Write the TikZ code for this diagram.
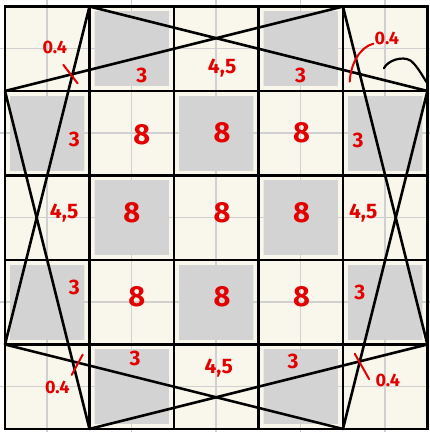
\documentclass[tikz,border=0pt]{standalone}
\usepackage{fontspec}
\setsansfont{Fira Sans}
\definecolor{paper}{RGB}{249,247,236}
\definecolor{hatchgray}{RGB}{211,211,211}
\definecolor{finegray}{RGB}{208,208,208}
\definecolor{inkred}{RGB}{226,0,0}

\begin{document}
\begin{tikzpicture}[x=84.5pt,y=84.5pt,
  fine/.style={finegray, line width=1.5pt},
  hatch/.style={hatchgray, line width=5.5pt, line cap=round},
  gridline/.style={black, line width=2.8pt, line cap=rect},
  star/.style={black, line width=2.6pt, line join=round},
  tick/.style={inkred, line width=2pt, line cap=round},
  num/.style={inkred, font=\sffamily\bfseries\fontsize{21}{21}\selectfont},
  bignum/.style={inkred, font=\sffamily\bfseries\fontsize{29}{29}\selectfont},
  smallnum/.style={inkred, font=\sffamily\bfseries\fontsize{18}{18}\selectfont}]

	\useasboundingbox (-0.059,-0.036) rectangle (5.030,5.077);
	\fill[white] (-0.059,-0.036) rectangle (5.030,5.077);
	\fill[paper] (0,0) rectangle (5,5);

 % light squared paper
 \foreach \x in {0.5,1.5,...,4.5}
    \draw[fine] (\x,-0.036) -- (\x,5.077);
 \foreach \y in {0.5,1.5,...,4.5}
    \draw[fine] (-0.059,\y) -- (5.030,\y);

 % shaded cells
 \foreach \i/\j in {1/4, 3/4, 0/3, 2/3, 4/3, 1/2, 3/2, 0/1, 2/1, 4/1, 1/0, 3/0}
 {
    \begin{scope}
    \clip (\i+0.06,\j+0.06) rectangle (\i+0.94,\j+0.94);
    \foreach \k in {-1,-0.91,...,1}
       \draw[hatch] (\i+\k,\j) -- ++(1,1);
    \end{scope}
 }

 % 5x5 board
 \foreach \x in {0,...,5}
    \draw[gridline] (\x,0) -- (\x,5);
 \foreach \y in {0,...,5}
    \draw[gridline] (0,\y) -- (5,\y);

 % the two tilted squares
	\coordinate (A1) at (1,5);
	\coordinate (A2) at (5,4);
	\coordinate (A3) at (4,0);
	\coordinate (A4) at (0,1);
	\coordinate (B1) at (4,5);
	\coordinate (B2) at (5,1);
	\coordinate (B3) at (1,0);
	\coordinate (B4) at (0,4);
	\draw[star] (A1) -- (A2) -- (A3) -- (A4) -- cycle;
	\draw[star] (B1) -- (B2) -- (B3) -- (B4) -- cycle;

 % areas
 \foreach \x/\y/\t [count=\n] in {1.62/4.19/3, 2.57/4.27/{4,5}, 3.50/4.19/3,
    0.82/3.43/3, 4.18/3.42/3, 0.70/2.56/{4,5}, 4.24/2.55/{4,5},
    0.82/1.68/3, 4.20/1.62/3, 1.54/0.83/3, 2.53/0.72/{4,5}, 3.41/0.80/3}
    \node[num] (a\n) at (\x,\y) {\t};
 \foreach \x/\y [count=\n] in {1.62/3.48, 2.57/3.50, 3.51/3.50,
    1.50/2.56, 2.57/2.56, 3.51/2.56,
    1.56/1.57, 2.57/1.57, 3.51/1.57}
    \node[bignum] (e\n) at (\x,\y) {8};

 % small corner pieces
	\node[smallnum] (q1) at (0.59,4.51) {0.4};
	\node[smallnum] (q2) at (4.52,4.62) {0.4};
	\node[smallnum] (q3) at (0.62,0.49) {0.4};
	\node[smallnum] (q4) at (4.53,0.58) {0.4};
	\draw[tick] (0.69,4.31) -- (0.86,4.09);
	\draw[tick] (4.08,4.11) .. controls (4.09,4.32) and (4.20,4.52) .. (4.36,4.56);
	\draw[tick] (0.79,0.64) -- (0.92,0.88);
	\draw[tick] (4.14,0.89) -- (4.31,0.59);

	\draw[black, line width=2.2pt, line cap=round] (4.485,4.27) .. controls (4.53,4.36) and (4.70,4.42) .. (4.80,4.36) .. controls (4.88,4.30) and (4.95,4.16) .. (5.0,4.09);

\end{tikzpicture}
\end{document}
